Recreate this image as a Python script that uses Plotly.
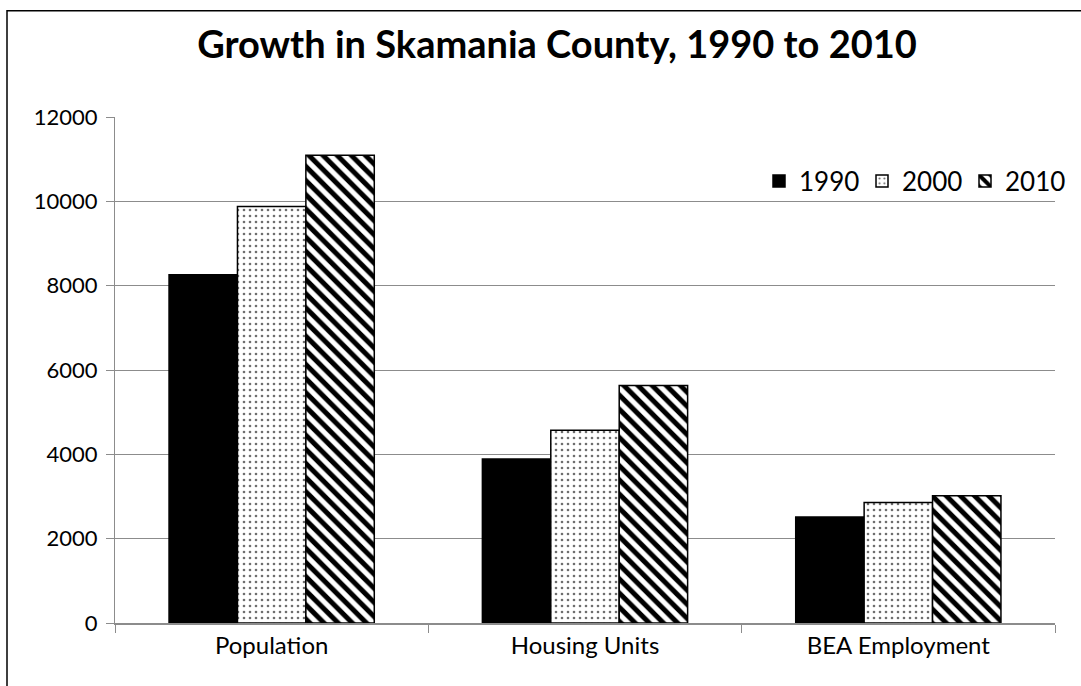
import plotly.graph_objects as go

categories = ["Population", "Housing Units", "BEA Employment"]
years = ["1990", "2000", "2010"]
values_1990 = [8260, 3890, 2515]
values_2000 = [9880, 4570, 2860]
values_2010 = [11090, 5630, 3020]
y_ticks = [0, 2000, 4000, 6000, 8000, 10000, 12000]

W, H = 1081, 686
ML, MR, MT, MB = 115, 26, 117, 63

FONT = "Lato"
GRID = "#8c8c8c"

fig = go.Figure()

fig.add_trace(go.Bar(
    name=years[0], x=categories, y=values_1990,
    marker=dict(color="black", line=dict(color="black", width=1.5)),
))
fig.add_trace(go.Bar(
    name=years[1], x=categories, y=values_2000,
    marker=dict(color="white", line=dict(color="black", width=1.5),
                pattern=dict(shape=".", fgcolor="#6e6e6e", bgcolor="white",
                             size=6, solidity=0.15, fillmode="overlay", fgopacity=1)),
))
fig.add_trace(go.Bar(
    name=years[2], x=categories, y=values_2010,
    marker=dict(color="white", line=dict(color="black", width=1.5),
                pattern=dict(shape="\\", fgcolor="black", bgcolor="white",
                             size=10, solidity=0.5, fillmode="overlay", fgopacity=1)),
))

pw = W - ML - MR
ph = H - MT - MB
# outer chart border (extends past right and bottom edges)
fig.add_shape(type="rect", xref="paper", yref="paper",
              x0=(7 - ML) / pw, x1=(W + 20 - ML) / pw,
              y0=-(MB + 20) / ph, y1=(H - MB - 10.7) / ph,
              line=dict(color="black", width=1.5), fillcolor="rgba(0,0,0,0)",
              layer="below")

fig.update_layout(
    width=W, height=H,
    margin=dict(l=ML, r=MR, t=MT, b=MB),
    paper_bgcolor="white", plot_bgcolor="white",
    barmode="group", bargap=0.345, bargroupgap=0,
    title=dict(text="<b>Growth in Skamania County, 1990 to 2010</b>",
               x=557 / W, xanchor="center", y=1 - 45 / H, yanchor="middle",
               font=dict(family=FONT, size=38, color="black")),
    font=dict(family=FONT, color="black"),
    legend=dict(orientation="h", x=(1068 - ML) / pw, xanchor="right",
                y=(H - MB - 181) / ph, yanchor="middle",
                font=dict(family=FONT, size=26, color="black"),
                bgcolor="rgba(0,0,0,0)", itemwidth=30, entrywidth=58,
                tracegroupgap=0),
    showlegend=True,
)

fig.update_yaxes(range=[0, 12000], tickvals=y_ticks, ticktext=[str(v) for v in y_ticks],
                 showgrid=True, gridcolor=GRID, gridwidth=1,
                 showline=True, linecolor=GRID, linewidth=1,
                 ticks="outside", ticklen=8, tickcolor=GRID, ticklabelstandoff=4,
                 tickfont=dict(family=FONT, size=22, color="black"),
                 zeroline=False)
fig.update_xaxes(showline=True, linecolor=GRID, linewidth=1.5,
                 ticks="outside", ticklen=8, tickcolor=GRID, tickson="boundaries",
                 tickfont=dict(family=FONT, size=24, color="black"),
                 showgrid=False)

fig.write_html("out.html", config={"displayModeBar": False},
               post_script="document.body.style.margin='0';document.body.style.overflow='hidden';")
